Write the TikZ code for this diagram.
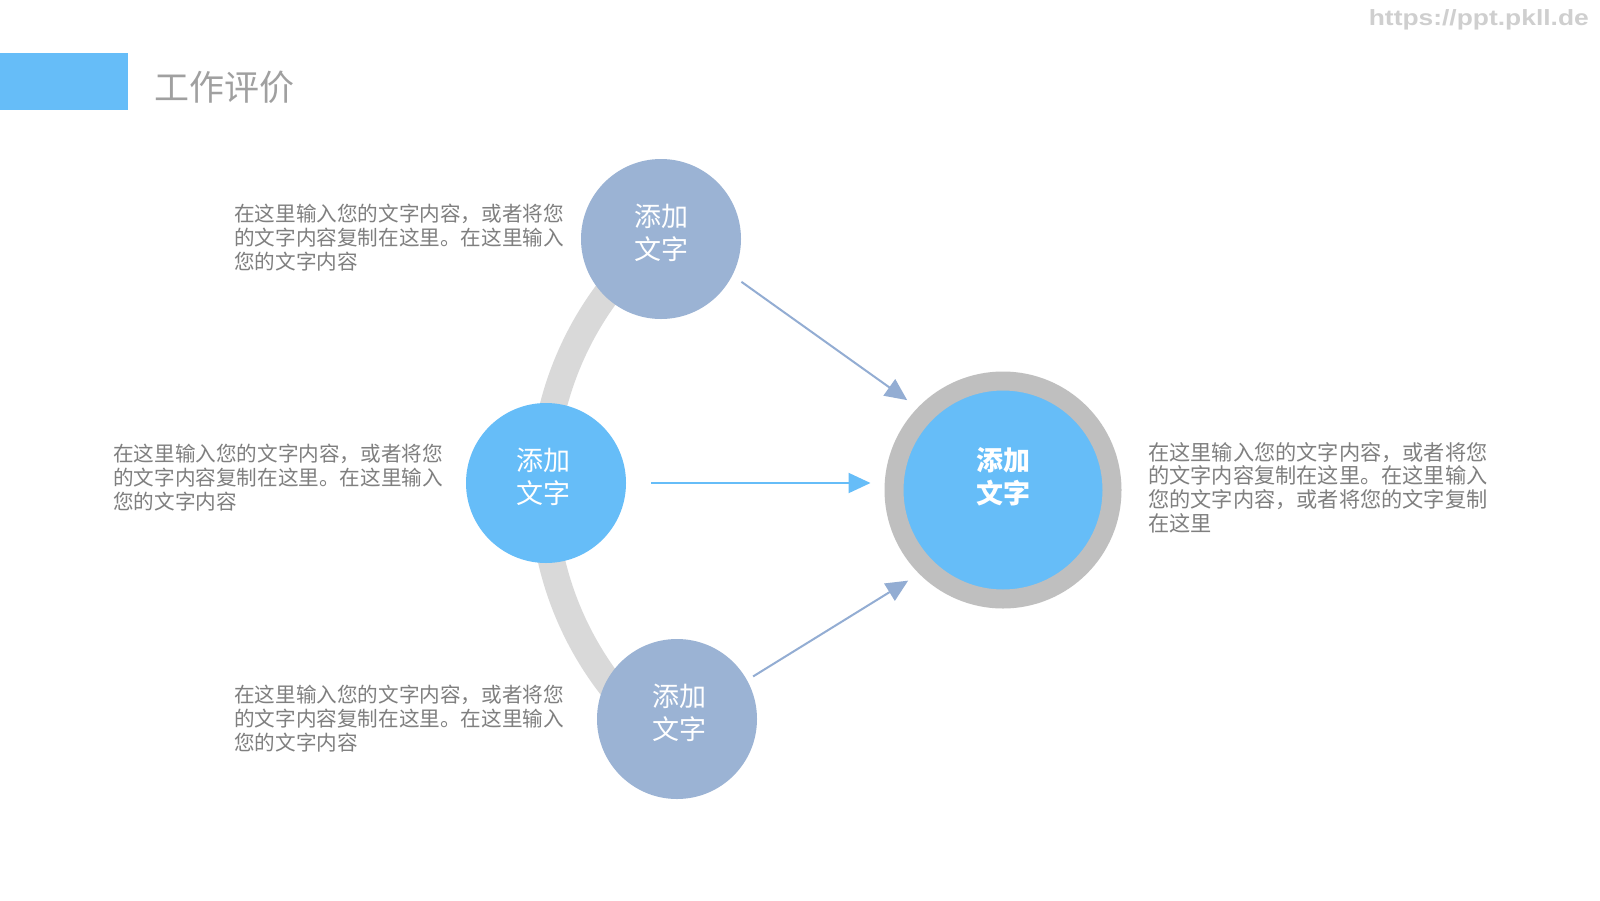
\documentclass[tikz,border=0pt]{standalone}
\usepackage{fontspec}
\setmainfont{Noto Sans CJK SC}
\newfontfamily\wmfont{Liberation Sans}
\usetikzlibrary{arrows.meta}
\definecolor{sky}{HTML}{66BDF8}
\definecolor{slate}{HTML}{9BB3D4}
\definecolor{arrowslate}{HTML}{93ADD3}
\definecolor{ring}{HTML}{BFBFBF}
\definecolor{arcgray}{HTML}{D9D9D9}
\definecolor{txtgray}{HTML}{7F7F7F}
\definecolor{titlegray}{HTML}{A0A0A0}
\definecolor{wmgray}{HTML}{CFCFCF}
\tikzset{
  smallc/.style={circle, minimum size=160pt, inner sep=0pt},
  ctext/.style={anchor=north, inner sep=0pt, align=center, text=white, font=\fontsize{27pt}{33pt}\selectfont},
  para/.style={anchor=north west, inner sep=0pt, align=left, text=txtgray, font=\fontsize{20.6pt}{24pt}\selectfont},
  arr/.style={line width=2pt, -{Triangle[length=22pt,width=20pt]}},
}
\begin{document}
\begin{tikzpicture}[x=1pt, y=-1pt]
\useasboundingbox (0,0) rectangle (1600,900);
\fill[white] (0,0) rectangle (1600,900);
% header bar
\fill[sky] (0,53) rectangle (128,110);
\node[anchor=base west, inner sep=0pt, text=titlegray, font=\fontsize{35pt}{40pt}\selectfont] (title) at (154,100) {工作评价};
\node[anchor=east, inner sep=0pt, text=wmgray, font=\wmfont\bfseries\fontsize{22pt}{24pt}\selectfont] (wm) at (1589,20) {\scalebox{1.2}[1]{https://ppt.pkll.de}};
% arc
\draw[arcgray, line width=27pt] (868,487) ++(125:325) arc[start angle=125, end angle=235, radius=325];
% circles
\node[smallc, fill=slate] (c1) at (661,239) {};
\node[smallc, fill=sky] (c2) at (546,483) {};
\node[smallc, fill=slate] (c3) at (677,719) {};
\node[circle, minimum size=218pt, inner sep=0pt, fill=sky, draw=ring, line width=19pt] (hub) at (1003,490) {};
% circle texts
\node[ctext] (t1) at (661,204) {添加\\文字};
\node[ctext] (t2) at (543,448) {添加\\文字};
\node[ctext] (t3) at (679,684) {添加\\文字};
\node[ctext, font=\bfseries\fontsize{27pt}{33pt}\selectfont] (th) at (1003,447) {添加\\文字};
% arrows
\draw[arr, arrowslate, shorten <=11pt, shorten >=13pt] (c1.-27) -- (hub.136);
\draw[arr, sky, shorten <=25pt, shorten >=14pt] (c2.east) -- (c2.east -| hub.west);
\draw[arr, arrowslate, shorten <=7pt, shorten >=13pt] (c3.29) -- (hub.225);
% paragraphs
\node[para] (p1) at (234,204) {在这里输入您的文字内容，或者将您\\的文字内容复制在这里。在这里输入\\您的文字内容};
\node[para] (p2) at (113,444) {在这里输入您的文字内容，或者将您\\的文字内容复制在这里。在这里输入\\您的文字内容};
\node[para] (p3) at (234,685) {在这里输入您的文字内容，或者将您\\的文字内容复制在这里。在这里输入\\您的文字内容};
\node[para, font=\fontsize{21.2pt}{23.8pt}\selectfont] (p4) at (1148,442) {在这里输入您的文字内容，或者将您\\的文字内容复制在这里。在这里输入\\您的文字内容，或者将您的文字复制\\在这里};
\end{tikzpicture}
\end{document}
